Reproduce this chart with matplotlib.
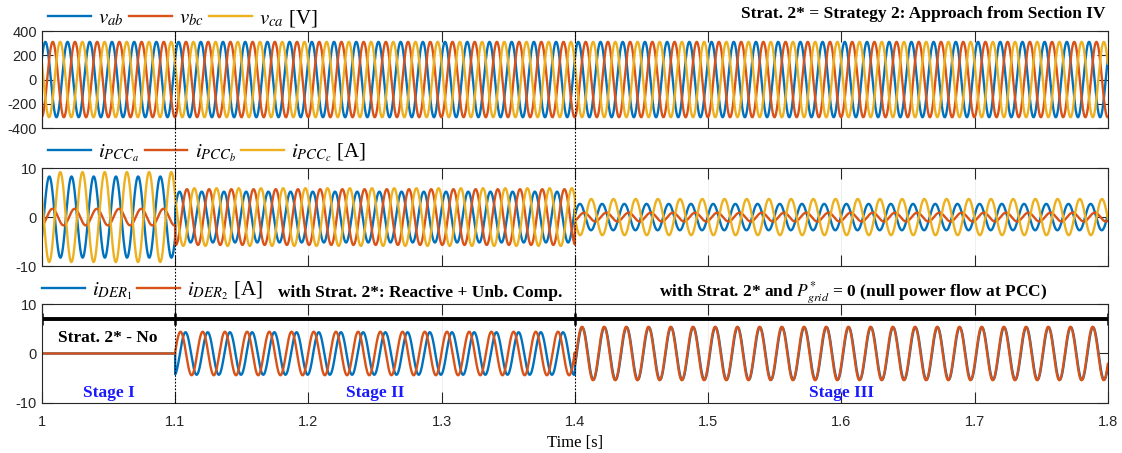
import numpy as np
import matplotlib.pyplot as plt
from matplotlib.lines import Line2D
import matplotlib.transforms as mtransforms

plt.rcParams['axes.unicode_minus'] = False
plt.rcParams['mathtext.fontset'] = 'stix'
plt.rcParams['font.family'] = 'Liberation Sans'

blue, red, yellow = '#0072BD', '#D95319', '#EDB120'
serif = 'Liberation Serif'

f_grid = 60.0
stage_edges = [1.0, 1.1, 1.4, 1.8]
x_ticks = [1.0, 1.1, 1.2, 1.3, 1.4, 1.5, 1.6, 1.7, 1.8]
x_ticklabels = ['1', '1.1', '1.2', '1.3', '1.4', '1.5', '1.6', '1.7', '1.8']

# line voltages, same in all stages: peak [V], phase at t=1 s [deg] (ab, bc, ca)
v_peak = [311.0, 311.0, 311.0]
v_phase = [35.0, -85.0, 155.0]

# PCC currents per stage (I, II, III): peak [A] and phase [deg] for a, b, c
i_pcc_peak = [[8.3, 1.7, 9.2], [5.2, 5.7, 5.9], [2.7, 0.9, 3.7]]
i_pcc_phase = [[-29.0, -80.0, 153.0], [20.0, -100.0, 140.0], [9.0, -60.0, -175.0]]

# DER currents per stage: peak [A] and phase [deg] for DER1, DER2
i_der_peak = [[0.0, 0.0], [4.3, 4.4], [5.3, 5.4]]
i_der_phase = [[0.0, 0.0], [-77.0, 4.0], [-30.0, -23.0]]

t = np.arange(stage_edges[0], stage_edges[-1] + 1e-9, 5e-5)
stage = np.searchsorted(stage_edges[1:-1], t, side='right')


def wave(peaks, phases, k):
    pk = np.array([p[k] for p in peaks])[stage]
    ph = np.radians(np.array([p[k] for p in phases]))[stage]
    return pk * np.sin(2 * np.pi * f_grid * t + ph)


fig = plt.figure(figsize=(11.22, 4.53), dpi=100)
ax1 = fig.add_axes([0.0374, 0.7174, 0.950, 0.214])
ax2 = fig.add_axes([0.0374, 0.4128, 0.950, 0.216])
ax3 = fig.add_axes([0.0374, 0.1104, 0.950, 0.2185])

colors = [blue, red, yellow]

# voltages
for k in range(3):
    v = v_peak[k] * np.sin(2 * np.pi * f_grid * t + np.radians(v_phase[k]))
    ax1.plot(t, v, color=colors[k], lw=1.7)
ax1.set_ylim(-400, 400)
ax1.set_yticks([-400, -200, 0, 200, 400])

# PCC currents
for k in range(3):
    ax2.plot(t, wave(i_pcc_peak, i_pcc_phase, k), color=colors[k], lw=1.7)
ax2.set_ylim(-10, 10)
ax2.set_yticks([-10, 0, 10])

# DER currents
for k in range(2):
    ax3.plot(t, wave(i_der_peak, i_der_phase, k), color=colors[k], lw=1.7)
ax3.set_ylim(-10, 10)
ax3.set_yticks([-10, 0, 10])

# stage bar
ax3.plot(stage_edges, [7] * len(stage_edges), color='k', lw=2.8,
         marker='|', ms=8, mew=1.8, solid_capstyle='butt')

for ax in (ax1, ax2, ax3):
    ax.set_xlim(stage_edges[0], stage_edges[-1])
    ax.set_xticks(x_ticks)
    ax.tick_params(direction='in', length=8, width=0.8, top=True, right=True,
                   labelsize=10.5, colors='#262626')
    ax.grid(True, color='#ececec', lw=0.6)
    ax.set_axisbelow(True)
    for s in ax.spines.values():
        s.set_linewidth(0.8)
        s.set_color('#262626')
ax1.set_xticklabels([])
ax2.set_xticklabels([])
ax3.set_xticklabels(x_ticklabels)
ax3.tick_params(axis='x', pad=9)
ax3.set_xlabel('Time [s]', fontfamily=serif, fontsize=12, labelpad=4)

leg_kw = dict(loc='lower left', ncol=3, frameon=False, handlelength=2.05,
              columnspacing=0.25, handletextpad=0.35, borderaxespad=0,
              borderpad=0, prop={'family': serif, 'size': 15})
ax1.legend(ax1.lines[:3], [r'$v_{ab}$', r'$v_{bc}$', r'$v_{ca}$ [V]'],
           bbox_to_anchor=(0.006, 1.02), **leg_kw)
ax2.legend(ax2.lines[:3], [r'$i_{PCC_a}$', r'$i_{PCC_b}$', r'$i_{PCC_c}$ [A]'],
           bbox_to_anchor=(0.006, 1.04), **leg_kw)
ax3.legend(ax3.lines[:2], [r'$i_{DER_1}$', r'$i_{DER_2}$ [A]'],
           bbox_to_anchor=(0.0, 1.02), **leg_kw)

bold = dict(fontfamily=serif, fontweight='bold', fontsize=12.5)
fig.text(0.985, 0.969, 'Strat. 2* = Strategy 2: Approach from Section IV',
         ha='right', va='center', **bold)
trans3 = mtransforms.blended_transform_factory(ax3.transData, ax3.transAxes)
ax3.text(1.284, 1.11, 'with Strat. 2*: Reactive + Unb. Comp.',
         transform=trans3, ha='center', va='center', **bold)
ax3.text(1.609, 1.11,
         r'with Strat. 2* and $\boldsymbol{P^{*}_{grid}}$ = 0 (null power flow at PCC)',
         transform=trans3, ha='center', va='center', **bold)
ax3.text(1.0495, 3.1, 'Strat. 2* - No', ha='center', va='center', **bold)
for xs, lab in zip([1.05, 1.25, 1.6], ['Stage I', 'Stage II', 'Stage III']):
    ax3.text(xs, -8.0, lab, ha='center', va='center', color='#1a1aff', **bold)

# dotted stage boundaries across all panels
inv = fig.transFigure.inverted()
y_top = inv.transform(ax1.transAxes.transform((0, 1)))[1]
y_bot = inv.transform(ax3.transAxes.transform((0, 0)))[1]
for tb in stage_edges[1:-1]:
    xf = inv.transform(ax1.transData.transform((tb, 0)))[0]
    fig.add_artist(Line2D([xf, xf], [y_bot, y_top], transform=fig.transFigure,
                          color='k', lw=0.8, ls=(0, (1.5, 1.5))))

fig.savefig('out.png', dpi=100)
